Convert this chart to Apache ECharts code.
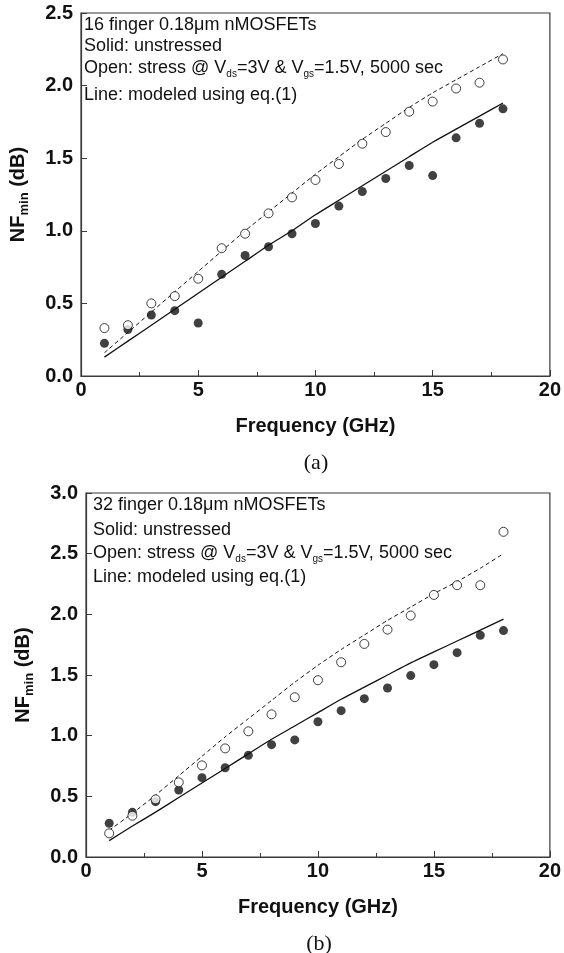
<!DOCTYPE html>
<html><head><meta charset="utf-8">
<script src="https://cdn.jsdelivr.net/npm/echarts@6/dist/echarts.min.js"></script>
<style>html,body{margin:0;padding:0;background:#fff}#c{width:564px;height:953px}</style>
</head><body><div id="c"></div>
<script>
// ---- data ----
const freq = [1,2,3,4,5,6,7,8,9,10,11,12,13,14,15,16,17,18];
// (a) 16 finger
const aUnstressed = [0.225,0.32,0.42,0.45,0.365,0.70,0.83,0.89,0.98,1.05,1.17,1.27,1.36,1.45,1.38,1.64,1.74,1.84];
const aStressed   = [0.33,0.35,0.50,0.55,0.67,0.88,0.98,1.12,1.23,1.35,1.46,1.60,1.68,1.82,1.89,1.98,2.02,2.18];
const aModelUnstressed = [0.13,0.24,0.35,0.46,0.57,0.68,0.79,0.90,1.00,1.11,1.21,1.31,1.41,1.51,1.61,1.70,1.79,1.88];
const aModelStressed   = [0.16,0.30,0.44,0.58,0.72,0.86,1.00,1.13,1.26,1.39,1.51,1.63,1.74,1.85,1.95,2.04,2.13,2.22];
// (b) 32 finger
const bUnstressed = [0.278,0.368,0.456,0.552,0.654,0.736,0.838,0.926,0.965,1.115,1.206,1.305,1.393,1.495,1.585,1.684,1.828,1.866];
const bStressed   = [0.195,0.34,0.475,0.615,0.755,0.895,1.036,1.176,1.317,1.457,1.605,1.756,1.874,1.99,2.16,2.24,2.24,2.68];
const bModelUnstressed = [0.135,0.255,0.37,0.49,0.61,0.73,0.85,0.97,1.08,1.19,1.30,1.40,1.50,1.60,1.69,1.78,1.87,1.96];
const bModelStressed   = [0.22,0.36,0.51,0.67,0.83,0.99,1.14,1.29,1.44,1.58,1.71,1.83,1.95,2.06,2.17,2.27,2.38,2.50];
const xTicks = {min:0, max:20, interval:5};
const yTicksA = {min:0, max:2.5, interval:0.5};
const yTicksB = {min:0, max:3.0, interval:0.5};
const textA = ['16 finger 0.18\u03bcm nMOSFETs','Solid: unstressed','OPEN','Line: modeled using eq.(1)'];
const textB = ['32 finger 0.18\u03bcm nMOSFETs','Solid: unstressed','OPEN','Line: modeled using eq.(1)'];

// ---- chart ----
const FONT = '"Liberation Sans", Arial, Helvetica, sans-serif';
const AX = '#3a3a3a';
const chart = echarts.init(document.getElementById('c'), null, {renderer:'canvas'});
const pts = arr => freq.map((f,i)=>[f, arr[i]]);

function xAxisCfg(g){
  return {type:'value', gridIndex:g, min:xTicks.min, max:xTicks.max, interval:xTicks.interval,
    axisLine:{show:true, onZero:false, lineStyle:{color:AX, width:1.2}},
    axisTick:{show:true, inside:true, length:6, lineStyle:{color:AX}},
    minorTick:{show:true, splitNumber:2, length:4, lineStyle:{color:AX}},
    splitLine:{show:false},
    axisLabel:{fontSize:20, fontWeight:'bold', color:'#111', fontFamily:FONT, margin:4},
    name:'Frequency (GHz)', nameLocation:'middle', nameGap:40,
    nameTextStyle:{fontSize:20, fontWeight:'bold', color:'#111', fontFamily:FONT}};
}
function yAxisCfg(g, t){
  return {type:'value', gridIndex:g, min:t.min, max:t.max, interval:t.interval,
    axisLine:{show:true, onZero:false, lineStyle:{color:AX, width:1.2}},
    axisTick:{show:true, inside:true, length:6, lineStyle:{color:AX}},
    splitLine:{show:false},
    axisLabel:{fontSize:20, fontWeight:'bold', color:'#111', fontFamily:FONT, margin:8,
      formatter: v => v.toFixed(1)},
    name:'{n|NF}{s|min}{n| (dB)}', nameLocation:'middle', nameRotate:90, nameGap:50,
    nameTextStyle:{color:'#111', fontFamily:FONT,
      rich:{n:{fontSize:20, fontWeight:'bold', fontFamily:FONT, color:'#111'},
            s:{fontSize:13, fontWeight:'bold', fontFamily:FONT, color:'#111', padding:[12,0,0,0]}}}};
}
function scatter(g, arr, open){
  return {type:'scatter', xAxisIndex:g, yAxisIndex:g, data:pts(arr), symbol:'circle', symbolSize:9,
    itemStyle: open ? {color:'#fff', borderColor:'#111', borderWidth:1} : {color:'#111'}, z:3};
}
function line(g, arr, dashed){
  return {type:'line', xAxisIndex:g, yAxisIndex:g, data:pts(arr), symbol:'none', smooth:0.2,
    lineStyle:{color:'#111', width: dashed ? 1 : 1.3, type: dashed ? [4,3] : 'solid'}, z:2};
}
const rich = {
  t:{fontSize:18, fontFamily:FONT, color:'#111'},
  s:{fontSize:10, fontFamily:FONT, color:'#111', padding:[13,0,0,0]}
};
function annot(lines, x, ys){
  return lines.map((s,i)=>({type:'text', x:x, y:ys[i], z:10,
    style:{text: s==='OPEN' ? '{t|Open: stress @ V}{s|ds}{t|=3V & V}{s|gs}{t|=1.5V, 5000 sec}' : '{t|'+s+'}',
      rich:rich, verticalAlign:'middle', align:'left', fill:'#111'}}));
}
chart.setOption({
  animation:false,
  grid:[
    {left:81, top:13, width:470, height:363, show:true, borderColor:AX, borderWidth:1.2, backgroundColor:'transparent'},
    {left:86, top:493, width:467, height:364, show:true, borderColor:AX, borderWidth:1.2, backgroundColor:'transparent'}
  ],
  xAxis:[xAxisCfg(0), xAxisCfg(1)],
  yAxis:[yAxisCfg(0, yTicksA), yAxisCfg(1, yTicksB)],
  series:[
    line(0, aModelUnstressed, false), line(0, aModelStressed, true),
    scatter(0, aUnstressed, false), scatter(0, aStressed, true),
    line(1, bModelUnstressed, false), line(1, bModelStressed, true),
    scatter(1, bUnstressed, false), scatter(1, bStressed, true)
  ],
  graphic:[
    ...annot(textA, 84, [25,46,68,95]),
    ...annot(textB, 93, [505,530,553,577]),
    {type:'text', x:316, y:463, style:{text:'(a)', fontSize:22, fontFamily:'"Liberation Serif","Times New Roman",serif', fill:'#111', align:'center', verticalAlign:'middle'}},
    {type:'text', x:319, y:944, style:{text:'(b)', fontSize:22, fontFamily:'"Liberation Serif","Times New Roman",serif', fill:'#111', align:'center', verticalAlign:'middle'}}
  ]
});
</script></body></html>
